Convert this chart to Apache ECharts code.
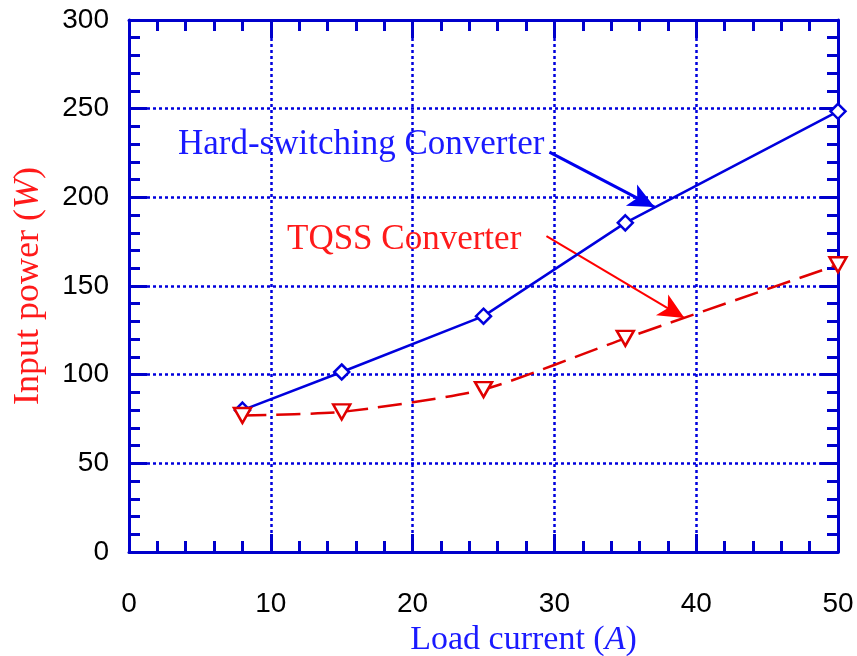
<!DOCTYPE html>
<html>
<head>
<meta charset="utf-8">
<script src="https://cdn.jsdelivr.net/npm/echarts@6/dist/echarts.min.js"></script>
<style>html,body{margin:0;padding:0;background:#fff}#c{width:857px;height:656px}</style>
</head>
<body>
<div id="c"></div>
<script>
const loadCurrent = [8, 15, 25, 35, 50];
const hardSwitching = [80, 101.5, 133, 185.6, 248.5];
const tqss = [77, 79, 91.6, 120.5, 162];
const xTicks = [0, 10, 20, 30, 40, 50];
const yTicks = [0, 50, 100, 150, 200, 250, 300];
const hardLabel = 'Hard-switching Converter';
const tqssLabel = 'TQSS Converter';
const hardArrow = [[29.65, 225.5], [37.06, 194.5]];
const tqssArrow = [[29.44, 178.1], [39.17, 131.9]];

const AX = '#0000cc';
const chart = echarts.init(document.getElementById('c'));

function axisBase(extra) {
  return Object.assign({
    type: 'value',
    axisLine: { show: true, onZero: false, lineStyle: { color: AX, width: 3 } },
    axisTick: { show: true, inside: true, length: 18, lineStyle: { color: AX, width: 3 } },
    minorTick: { show: true, splitNumber: 5, length: 11, lineStyle: { color: AX, width: 3 } },
    splitLine: { show: false },
    minorSplitLine: { show: false }
  }, extra);
}
const gridLine = { show: true, lineStyle: { color: '#0000dd', type: [3, 3], width: 2.5 } };
const tickFont = { color: '#000', fontFamily: 'Liberation Sans', fontSize: 28 };

chart.setOption({
  animation: false,
  grid: { left: 129, right: 19, top: 20, bottom: 104, containLabel: false, outerBoundsMode: 'none' },
  xAxis: [
    axisBase({
      min: xTicks[0], max: xTicks[xTicks.length - 1], interval: 10, position: 'bottom',
      splitLine: gridLine,
      axisLabel: Object.assign({ margin: 38 }, tickFont),
      name: '{n|Load current (}{i|A}{n|)}',
      nameLocation: 'middle', nameGap: 70,
      nameTextStyle: {
        padding: [0, 0, 0, 80],
        rich: {
          n: { fontFamily: 'Liberation Serif', fontSize: 34, color: '#1a1aff' },
          i: { fontFamily: 'Liberation Serif', fontSize: 34, fontStyle: 'italic', color: '#1a1aff' }
        }
      }
    }),
    axisBase({
      min: xTicks[0], max: xTicks[xTicks.length - 1], interval: 10, position: 'top',
      axisLabel: { show: false }
    })
  ],
  yAxis: [
    axisBase({
      min: yTicks[0], max: yTicks[yTicks.length - 1], interval: 50, position: 'left',
      splitLine: gridLine,
      axisLabel: Object.assign({ margin: 20 }, tickFont),
      name: '{n|Input power (}{i|W}{n|)}',
      nameLocation: 'middle', nameGap: 82, nameRotate: 90,
      nameTextStyle: {
        rich: {
          n: { fontFamily: 'Liberation Serif', fontSize: 36, color: '#ff1a1a' },
          i: { fontFamily: 'Liberation Serif', fontSize: 36, fontStyle: 'italic', color: '#ff1a1a' }
        }
      }
    }),
    axisBase({
      min: yTicks[0], max: yTicks[yTicks.length - 1], interval: 50, position: 'right',
      axisLabel: { show: false }
    })
  ],
  series: [
    {
      name: 'Hard-switching',
      type: 'line',
      clip: false,
      data: loadCurrent.map((x, i) => [x, hardSwitching[i]]),
      symbol: 'diamond', symbolSize: [15, 15],
      lineStyle: { color: '#0000dd', width: 2.5 },
      itemStyle: { color: '#fff', borderColor: '#0000dd', borderWidth: 2.5 },
      z: 5,
      markLine: {
        silent: true,
        symbol: ['none', 'arrow'], symbolSize: [18, 26],
        label: { show: false },
        lineStyle: { color: '#0000ee', width: 3, type: 'solid' },
        data: [[{ coord: hardArrow[0] }, { coord: hardArrow[1] }]]
      }
    },
    {
      name: 'TQSS',
      type: 'line',
      clip: false,
      smooth: 0.2,
      data: loadCurrent.map((x, i) => [x, tqss[i]]),
      symbol: 'triangle', symbolRotate: 180, symbolSize: [17, 15],
      lineStyle: { color: '#e00000', width: 2.5, type: [24, 10] },
      itemStyle: { color: '#fff', borderColor: '#e00000', borderWidth: 2.5 },
      z: 6,
      markLine: {
        silent: true,
        symbol: ['none', 'arrow'], symbolSize: [18, 26],
        label: { show: false },
        lineStyle: { color: '#ff0000', width: 2, type: 'solid' },
        data: [[{ coord: tqssArrow[0] }, { coord: tqssArrow[1] }]]
      }
    }
  ],
  graphic: [
    {
      type: 'text', left: 178, top: 127, z: 10,
      style: { text: hardLabel, fill: '#1a1aff', font: '35px "Liberation Serif"' }
    },
    {
      type: 'text', left: 287, top: 222, z: 10,
      style: { text: tqssLabel, fill: '#ff1a1a', font: '35px "Liberation Serif"' }
    }
  ]
});
</script>
</body>
</html>
